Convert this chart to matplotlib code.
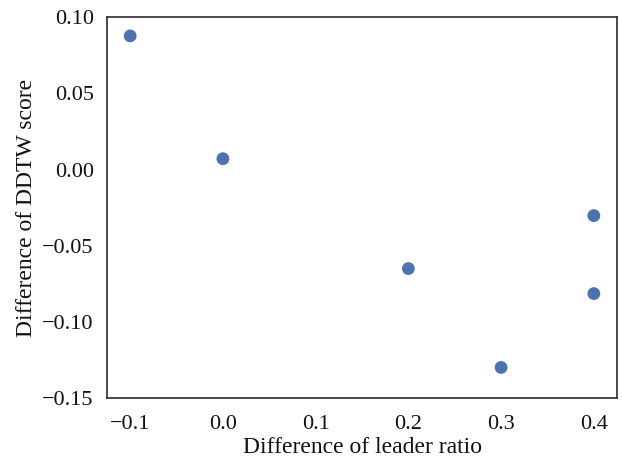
import matplotlib
matplotlib.use("Agg")
import matplotlib.pyplot as plt
import seaborn as sns

# leader ratio difference vs DDTW score difference
leader_diff = [-0.1, 0.0, 0.2, 0.3, 0.4, 0.4]
ddtw_diff = [0.0876, 0.0071, -0.0649, -0.1297, -0.0302, -0.0813]

sns.set_theme(style="white")
plt.rcParams['font.family'] = ['Liberation Serif', 'DejaVu Serif']

fig, ax = plt.subplots(figsize=(6.22, 4.59), dpi=100)
ax.scatter(leader_diff, ddtw_diff, s=85, color="#4c72b0", edgecolor="none")
ax.set_ylim(-0.15, 0.10)
ax.set_xticks([-0.1, 0.0, 0.1, 0.2, 0.3, 0.4])
ax.set_yticks([-0.15, -0.10, -0.05, 0.00, 0.05, 0.10])
ax.tick_params(axis="x", labelsize=16, labelcolor="#111111", pad=6)
ax.tick_params(axis="y", labelsize=16, labelcolor="#111111")
ax.set_xlabel("Difference of leader ratio", fontsize=17, color="#111111", labelpad=2)
ax.set_ylabel("Difference of DDTW score", fontsize=17, color="#111111")
for s in ax.spines.values():
    s.set_color("#333333")
fig.subplots_adjust(left=0.172, right=0.992, top=0.963, bottom=0.132)
fig.savefig("out.png")
